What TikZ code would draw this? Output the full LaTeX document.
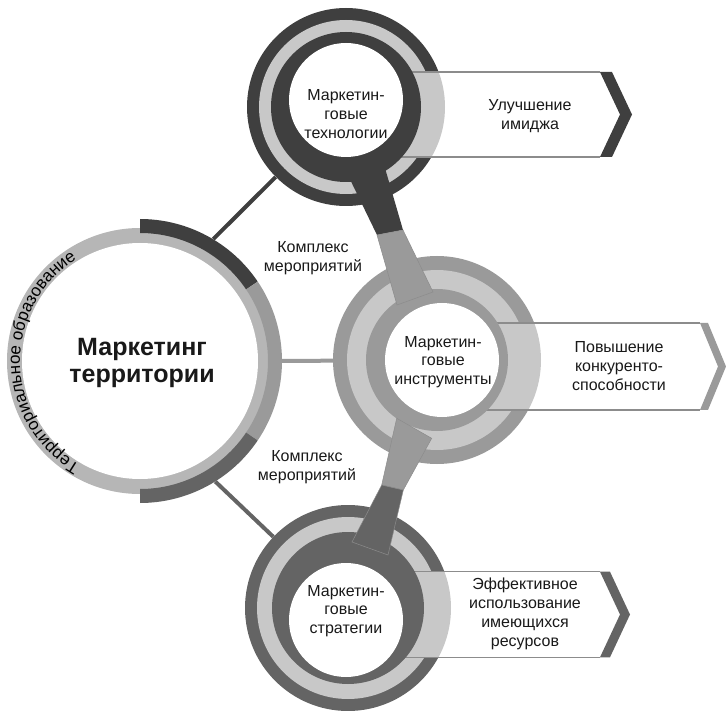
\documentclass[tikz,border=0pt]{standalone}
\usepackage{fontspec}
\setmainfont{Liberation Sans}
\usepackage{tikz}
\usetikzlibrary{positioning,calc,decorations.text}

\definecolor{techgray}{HTML}{3F3F3F}
\definecolor{instrgray}{HTML}{9A9A9A}
\definecolor{stratgray}{HTML}{646464}
\definecolor{ringgray}{HTML}{C8C8C8}
\definecolor{terrgray}{HTML}{B6B6B6}
\definecolor{bandline}{HTML}{8C8C8C}

\begin{document}
\begin{tikzpicture}
  [x=1pt, y=1pt, font=\fontsize{16}{18.8}\selectfont,
   every node/.style={align=center, inner sep=0pt, text=black!90},
   hub/.style={circle, minimum size=#1},
   link/.style={line width=4pt},
   wedge/.style={draw=black!45, line width=0.5pt},
   bandedge/.style={draw=bandline, line width=1.2pt},
  ]
  \useasboundingbox (0,0) rectangle (726,-711);

  \node[hub=284pt] (terr)  at (140,-361) {};
  \node[hub=198pt] (tech)  at (346,-107) {};
  \node[hub=208pt] (instr) at (437,-360) {};
  \node[hub=206pt] (strat) at (348,-608) {};

  % links to the territory
  \draw[link, techgray]  (terr.59)  -- (tech);
  \draw[link, instrgray] (terr.0)   -- (instr);
  \draw[link, stratgray] (terr.-58) -- (strat);

  % territory
  \fill[terrgray] (terr) circle (133pt);
  \foreach \a/\b/\c in {90/34/techgray, 34/-34/instrgray, -34/-90/stratgray}
    \fill[\c] ($(terr)+(\a:142)$) arc[start angle=\a, end angle=\b, radius=142pt]
      -- ($(terr)+(\b:128)$) arc[start angle=\b, end angle=\a, radius=128pt] -- cycle;
  \fill[white] (terr) circle (118pt);
  \path[decorate, decoration={text along path, text align=center,
      text={|\fontsize{17}{17}\selectfont|Территориальное образование}}]
    ($(terr)+(262:120)$) arc[start angle=262, end angle=100, radius=120pt];
  \node[font=\fontsize{25}{27}\selectfont\bfseries] (title) at (142,-363) {Маркетинг\\территории};

  % technologies
  \fill[techgray] (tech) circle (99pt);
  \fill[ringgray] (tech) circle (87pt);
  \fill[white] (346,-72) -- (600,-72) -- (620,-114.5) -- (600,-157) -- (346,-157) -- cycle;
  \begin{scope}
    \clip (tech) circle (99pt);
    \fill[ringgray] (346,-72) rectangle (460,-157);
  \end{scope}
  \draw[bandedge] (346,-72) -- (600,-72) (346,-157) -- (600,-157);
  \fill[techgray] (600,-72) -- (612,-72) -- (632,-114.5) -- (612,-157) -- (600,-157) -- (620,-114.5) -- cycle;
  \fill[techgray] (tech) circle (75pt);

  % instruments
  \fill[instrgray] (instr) circle (104pt);
  \fill[ringgray] (instr) circle (90pt);
  \fill[white] (437,-323) -- (700,-323) -- (718,-366.5) -- (700,-410) -- (437,-410) -- cycle;
  \begin{scope}
    \clip (instr) circle (104pt);
    \fill[ringgray] (437,-323) rectangle (560,-410);
  \end{scope}
  \draw[bandedge] (437,-323) -- (700,-323) (437,-410) -- (700,-410);
  \fill[instrgray] (700,-323) -- (708,-323) -- (726,-366.5) -- (708,-410) -- (700,-410) -- (718,-366.5) -- cycle;
  \fill[instrgray] (instr) circle (71pt);

  % strategies
  \fill[stratgray] (strat) circle (103pt);
  \fill[ringgray] (strat) circle (91pt);
  \fill[white] (348,-571.7) -- (600,-571.7) -- (620,-614.5) -- (600,-657.3) -- (348,-657.3) -- cycle;
  \begin{scope}
    \clip (strat) circle (103pt);
    \fill[ringgray] (348,-571.7) rectangle (470,-657.3);
  \end{scope}
  \draw[bandedge] (348,-571.7) -- (600,-571.7) (348,-657.3) -- (600,-657.3);
  \fill[stratgray] (600,-571.7) -- (610,-571.7) -- (630,-614.5) -- (610,-657.3) -- (600,-657.3) -- (620,-614.5) -- cycle;
  \fill[stratgray] (strat) circle (76pt);

  % handles between the hubs
  \fill[techgray] (347.3,-173.8) -- (377,-235) -- (403,-230) -- (382.7,-160.2) -- cycle;
  \filldraw[wedge, fill=instrgray] (377,-235) -- (397,-305) -- (433,-292) -- (403,-230) -- cycle;
  \filldraw[wedge, fill=instrgray] (396.7,-418.3) -- (381.7,-485) -- (403.3,-490) -- (431.7,-438.3) -- cycle;
  \filldraw[wedge, fill=stratgray] (381.7,-485) -- (352,-542) -- (388,-555) -- (403.3,-490) -- cycle;

  % centres
  \fill[white] (346,-100) circle (57pt);
  \fill[white] (442,-360) circle (57pt);
  \fill[white] (346,-620) circle (57pt);

  \node (techTxt)  at (346,-114) {Маркетин-\\говые\\технологии};
  \node (instrTxt) at (443,-362) {Маркетин-\\говые\\инструменты};
  \node (stratTxt) at (346,-611) {Маркетин-\\говые\\стратегии};

  \node (imageTxt) at (530,-116) {Улучшение\\имиджа};
  \node (compTxt)  at (619,-366) {Повышение\\конкуренто-\\способности};
  \node (resTxt)   at (525,-614) {Эффективное\\использование\\имеющихся\\ресурсов};

  \node (measTop) at (313,-258) {Комплекс\\мероприятий};
  \node (measBot) at (307,-467) {Комплекс\\мероприятий};
\end{tikzpicture}
\end{document}
